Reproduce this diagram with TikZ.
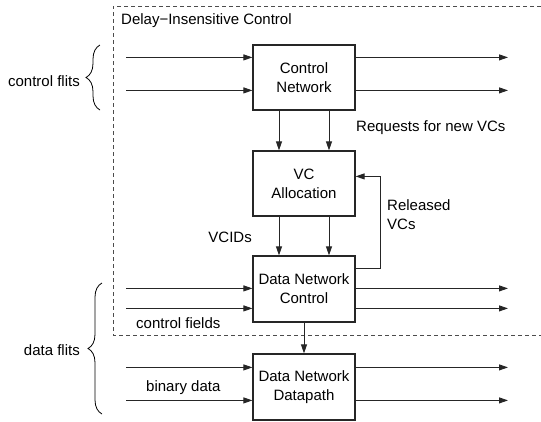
\documentclass[tikz,border=0pt]{standalone}
\usepackage{fontspec}
\setmainfont{Liberation Sans}
\usetikzlibrary{arrows.meta,decorations.pathreplacing}
\begin{document}
\begin{tikzpicture}[x=1pt,y=-1pt,
  txt/.style={font=\fontsize{15}{19}\selectfont, inner sep=0pt},
  block/.style={draw=black!85, line width=1.2pt, minimum width=102pt,
    minimum height=65pt, inner sep=0pt, align=center,
    font=\fontsize{15}{19}\selectfont},
  arr/.style={draw=black!85, line width=0.9pt, -{Triangle[length=9pt,width=6pt]}},
  region/.style={draw=black!70, line width=1pt, dash pattern=on 4pt off 3pt},
  bracket/.style={draw=black, line width=0.8pt,
    decorate, decoration={brace, amplitude=14pt}}]

\useasboundingbox (0,0) rectangle (541,421);

% delay-insensitive region (open on the right)
\draw[region] (541,6) -- (113,6) -- (113,335) -- (541,335);
\node[txt, anchor=west] (title) at (121,21) {Delay−Insensitive Control};

% blocks
\node[block] (cn)  at (304,77.5) {Control\\Network};
\node[block] (vc)  at (304,183.5) {VC\\Allocation};
\node[block, minimum height=66pt] (dnc) at (304,289) {Data Network\\Control};
\node[block, minimum height=66pt] (dnd) at (304,387) {Data Network\\Datapath};

% flit inputs and outputs
\foreach \b/\d in {cn/13, cn/46, dnc/33, dnc/53, dnd/14, dnd/47} {
  \coordinate (in-\b-\d) at ([yshift=-\d pt]\b.north west -| 126,0);
  \coordinate (out-\b-\d) at ([yshift=-\d pt]\b.north east -| 508,0);
  \draw[arr] (in-\b-\d) -- ([yshift=-\d pt]\b.north west);
  \draw[arr] ([yshift=-\d pt]\b.north east) -- (out-\b-\d);
}

% requests and VCIDs
\draw[arr] ([xshift=-25pt]cn.south) -- ([xshift=-25pt]vc.north);
\draw[arr] ([xshift=25pt]cn.south) -- ([xshift=25pt]vc.north);
\draw[arr] ([xshift=-25pt]vc.south) -- ([xshift=-25pt]dnc.north);
\draw[arr] ([xshift=25pt]vc.south) -- ([xshift=25pt]dnc.north);

% released VCs feedback
\draw[arr] ([yshift=-13pt]dnc.north east) -- ++(25,0) |- ([yshift=-26pt]vc.north east);

% control to datapath
\draw[arr] (dnc.south) -- (dnd.north);

% labels
\node[txt, anchor=west] (req) at (356,128) {Requests for new VCs};
\node[txt, anchor=east] (vcid) at (252,237) {VCIDs};
\node[txt, anchor=west, align=left] (rel) at (387,214.5) {Released\\VCs};
\node[txt, anchor=west] (cf) at (136,323) {control fields};
\node[txt, anchor=west] (bd) at (146,388) {binary data};

% braces
\draw[bracket] (100,110) -- (100,45) coordinate[midway] (cbr);
\draw[bracket] (102,414) -- (102,283) coordinate[midway] (dbr);
\node[txt, anchor=east] (cflits) at (80,81) {control flits};
\node[txt, anchor=east] (dflits) at (80,350) {data flits};
\end{tikzpicture}
\end{document}
